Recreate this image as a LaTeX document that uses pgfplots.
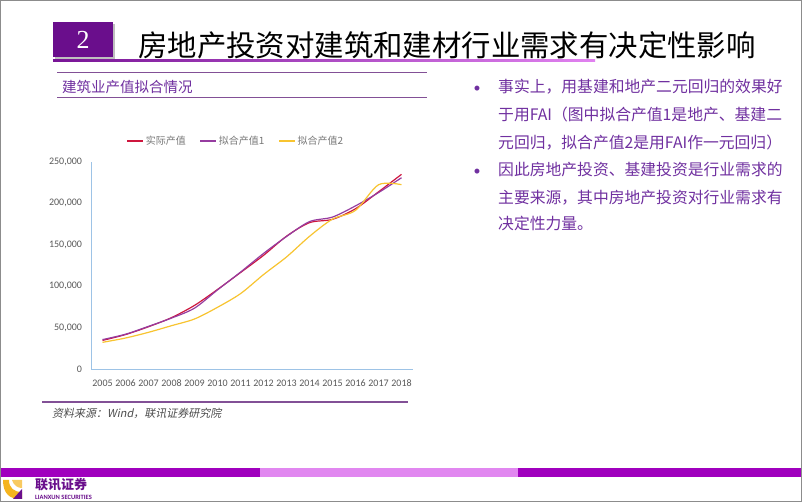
\documentclass[border=0pt]{standalone}
\usepackage{pgfplots}
\pgfplotsset{compat=1.18}
\usepackage{fontspec}
\setmainfont{Carlito}
\newfontfamily\cjk{Noto Sans CJK SC}
\newfontfamily\cjkit[FakeSlant=0.2]{Noto Sans CJK SC}
\newfontfamily\serif{Liberation Serif}
\definecolor{boxpurple}{RGB}{106,14,140}
\definecolor{txtpurple}{RGB}{112,48,160}
\definecolor{linepurple}{RGB}{130,80,150}
\definecolor{bardark}{RGB}{160,0,190}
\definecolor{barlight}{RGB}{225,135,240}
\definecolor{axisblue}{RGB}{157,195,230}
\definecolor{tickgray}{RGB}{89,89,89}
\definecolor{legendgray}{RGB}{120,120,120}
\definecolor{sred}{RGB}{206,22,62}
\definecolor{spurple}{RGB}{150,60,160}
\definecolor{syellow}{RGB}{248,196,48}
\definecolor{logoyellow}{RGB}{245,180,30}
\begin{document}
\begin{tikzpicture}[x=1pt,y=1pt]
\useasboundingbox (0pt,0pt) rectangle (802pt,502pt);
\fill[white] (0,0) rectangle (802,502);
% number box
\fill[black!25] (55,443) rectangle (115,478);
\fill[boxpurple] (53,445) rectangle (113,480);
\node[white, font=\serif\fontsize{26}{26}\selectfont] at (83,462.5) {2};
% title
\node[anchor=base west, inner sep=0, font=\cjk\fontsize{29.4}{30}\selectfont] at (138,445) {房地产投资对建筑和建材行业需求有决定性影响};
\shade[left color={rgb,255:red,120;green,20;blue,150}, right color={rgb,255:red,225;green,130;blue,240}] (53,440) rectangle (595,442);
% subtitle
\draw[linepurple, line width=1pt] (57,429) -- (427,429);
\draw[linepurple, line width=1pt] (57,404) -- (427,404);
\node[anchor=base west, inner sep=0, text=txtpurple, font=\cjk\fontsize{14.5}{15}\selectfont] at (62,409.5) {建筑业产值拟合情况};
% right text
\begin{scope}[every node/.style={anchor=base west, inner sep=0, text=txtpurple, font=\cjk\fontsize{15.8}{16}\selectfont}]
\node at (498,409) {事实上，用基建和地产二元回归的效果好};
\node at (498,381) {于用FAI（图中拟合产值1是地产、基建二};
\node at (498,353) {元回归，拟合产值2是用FAI作一元回归）};
\node at (498,326) {因此房地产投资、基建投资是行业需求的};
\node at (498,298) {主要来源，其中房地产投资对行业需求有};
\node at (498,272) {决定性力量。};
\end{scope}
\node[anchor=base, inner sep=0, text=txtpurple, font=\fontsize{14}{14}\selectfont] at (477,409) {•};
\node[anchor=base, inner sep=0, text=txtpurple, font=\fontsize{14}{14}\selectfont] at (477,326) {•};
% source
\draw[linepurple, line width=1.2pt] (42,100) -- (408,100);
\node[anchor=base west, inner sep=0, text=black!70, font=\cjkit\fontsize{11}{12}\selectfont] at (52,84) {资料来源：Wind，联讯证券研究院};
% bottom bar
\fill[bardark] (0,25) rectangle (260,34);
\fill[barlight] (260,25) rectangle (518,34);
\fill[bardark] (518,25) rectangle (802,34);
% logo
\fill[logoyellow] (3,22) .. controls (3,8) and (10,3) .. (20,3) -- (22,3) -- (22,10) .. controls (14,10) and (9,14) .. (9,22) -- cycle;
\fill[logoyellow!70!white] (12,22) .. controls (14,16) and (18,14) .. (22,14) -- (22,22) -- cycle;
\fill[boxpurple] (13,3) -- (22,3) -- (22,13) -- cycle;
\node[anchor=base west, inner sep=0, text=boxpurple, font=\cjk\bfseries\fontsize{13}{13}\selectfont] at (35,12) {联讯证券};
\node[anchor=base west, inner sep=0, text=boxpurple, font=\bfseries\fontsize{6.5}{7}\selectfont] at (35,2.5) {LIANXUN SECURITIES};
% chart
\begin{axis}[
  at={(91pt,133pt)}, anchor=south west,
  scale only axis, width=322pt, height=207pt,
  xmin=-0.5, xmax=13.5, ymin=0, ymax=250000,
  axis x line*=bottom, axis y line*=left,
  axis line style={draw=axisblue, line width=0.8pt},
  major tick length=0pt,
  xtick={0,...,13},
  xticklabels={2005,2006,2007,2008,2009,2010,2011,2012,2013,2014,2015,2016,2017,2018},
  ytick={0,50000,100000,150000,200000,250000},
  scaled y ticks=false,
  yticklabel style={/pgf/number format/fixed, /pgf/number format/1000 sep={,}, /pgf/number format/assume math mode=true, xshift=-5.5pt},
  ticklabel style={font=\fontsize{10}{11}\selectfont, text=tickgray},
  xticklabel style={yshift=-7pt},
  legend style={draw=none, fill=none, at={(0.45,1.101)}, anchor=center,
    legend columns=3, font=\cjk\fontsize{10}{11}\selectfont, text=legendgray,
    /tikz/every even column/.append style={column sep=12pt}},
  legend image code/.code={\draw[#1] (0pt,0pt) -- (16pt,0pt);},
  every axis plot/.append style={line width=1.2pt, no markers, smooth},
]
\addplot[sred] coordinates {(0,34552) (1,41557) (2,51044) (3,62037) (4,76808) (5,96031) (6,116463) (7,137218) (8,160366) (9,176713) (10,180757) (11,193567) (12,213944) (13,235086)};
\addlegendentry{实际产值}
\addplot[spurple] coordinates {(0,35500) (1,42000) (2,51500) (3,61500) (4,73500) (5,95500) (6,117000) (7,139500) (8,160000) (9,178000) (10,183500) (11,197000) (12,213000) (13,231000)};
\addlegendentry{拟合产值1}
\addplot[syellow] coordinates {(0,32200) (1,37400) (2,44300) (3,52300) (4,60400) (5,74500) (6,91000) (7,114000) (8,135300) (9,160200) (10,181000) (11,191600) (12,222500) (13,222600)};
\addlegendentry{拟合产值2}
\end{axis}
\draw[black!45, line width=1pt] (0.5,0.5) rectangle (801.5,501.5);
\end{tikzpicture}
\end{document}
